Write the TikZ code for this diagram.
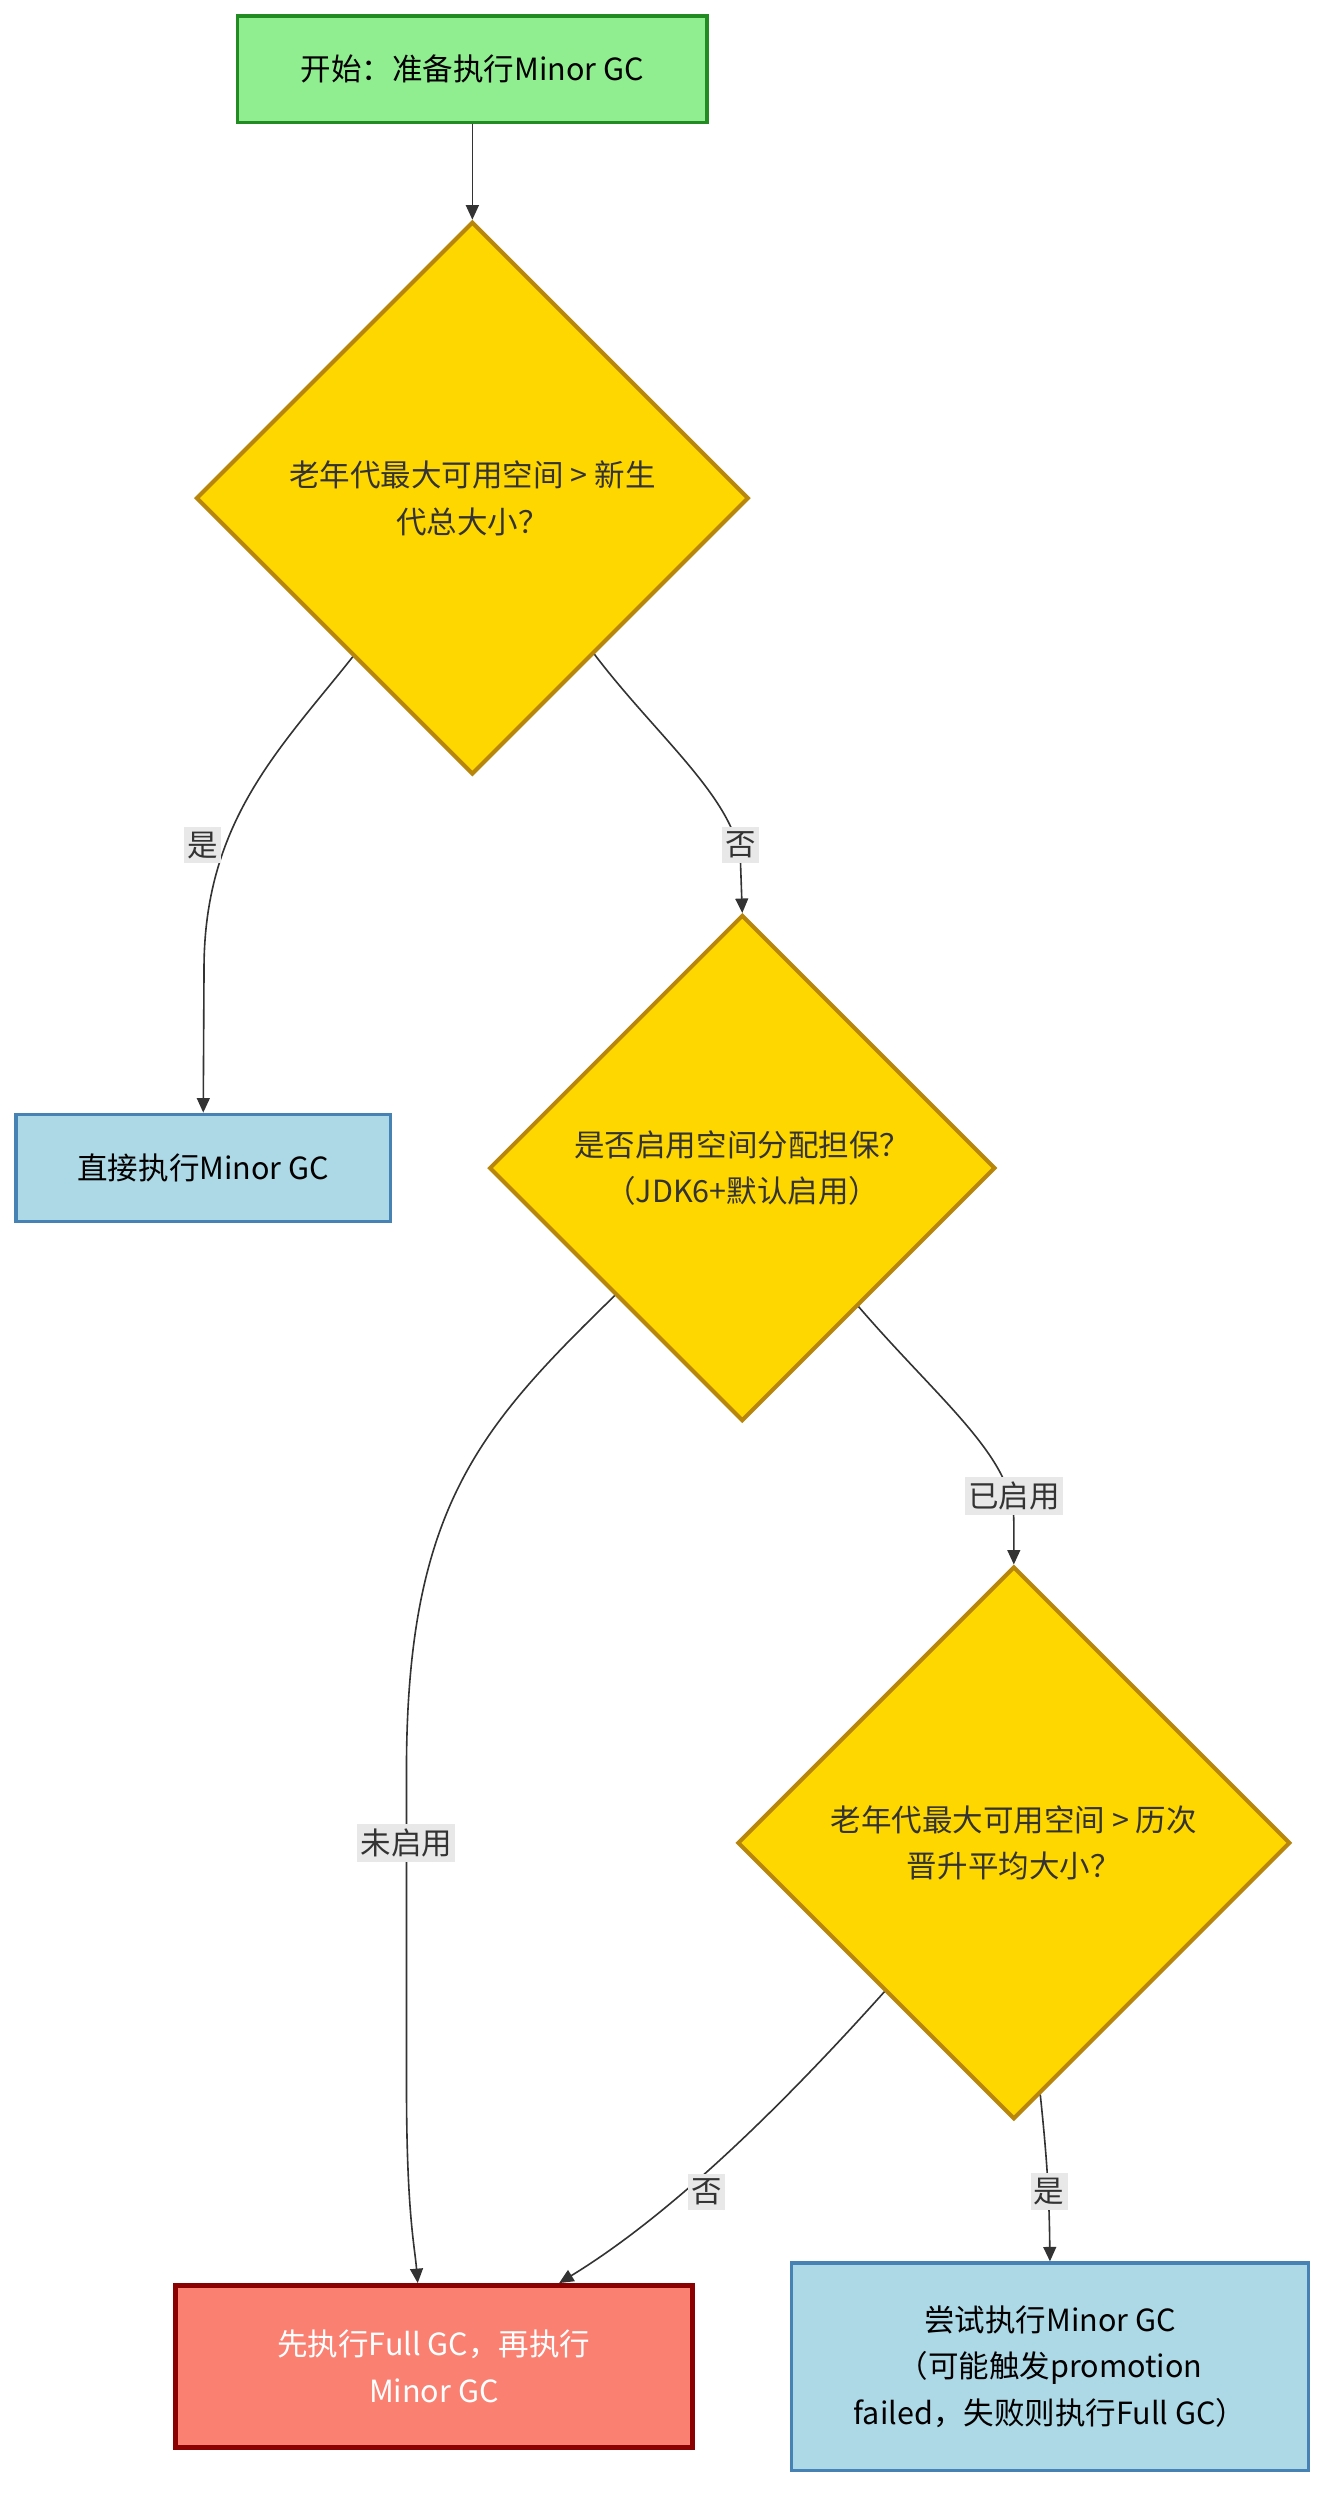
\documentclass[tikz,border=0pt]{standalone}
\usepackage{fontspec}
\setmainfont{Noto Sans CJK SC}
\usetikzlibrary{shapes.geometric,arrows.meta}
\definecolor{startfill}{HTML}{90EE90}
\definecolor{startline}{HTML}{228B22}
\definecolor{askfill}{HTML}{FFD700}
\definecolor{askline}{HTML}{B8860B}
\definecolor{gcfill}{HTML}{ADD8E6}
\definecolor{gcline}{HTML}{4682B4}
\definecolor{fullfill}{HTML}{FA8072}
\definecolor{fullline}{HTML}{8B0000}
\definecolor{ink}{HTML}{333333}
\definecolor{tagfill}{HTML}{E8E8E8}
\tikzset{
  txt/.style={font=\fontsize{19}{29}\selectfont, align=center, inner sep=0pt},
  startbox/.style={txt, draw=startline, fill=startfill, line width=2pt, minimum width=292pt, minimum height=66pt},
  ask/.style={txt, diamond, aspect=1, draw=askline, fill=askfill, line width=2.5pt, text=ink},
  gcbox/.style={txt, draw=gcline, fill=gcfill, line width=2pt},
  fullbox/.style={txt, draw=fullline, fill=fullfill, line width=3pt, text=white},
  flow/.style={draw=ink, line width=1pt, -{Triangle[length=9pt,width=8pt]}},
  tag/.style={font=\fontsize{19}{22}\selectfont, fill=tagfill, text=ink, inner xsep=2pt, inner ysep=3pt},
}
\begin{document}
\begin{tikzpicture}[x=1pt,y=-1pt]
    \useasboundingbox (0,0) rectangle (830,1561);
    \node[startbox] (start) at (294,43) {开始：准备执行Minor GC};
    \node[ask, minimum width=344pt, minimum height=344pt] (d1) at (294,310) {老年代最大可用空间 > 新生\\代总大小？};
    \node[gcbox, minimum width=233pt, minimum height=67pt] (direct) at (126.5,727) {直接执行Minor GC};
    \node[ask, minimum width=315pt, minimum height=315pt] (d2) at (462,727) {是否启用空间分配担保？\\（JDK6+默认启用）};
    \node[ask, minimum width=344pt, minimum height=344pt] (d3) at (631,1147) {老年代最大可用空间 > 历次\\晋升平均大小？};
    \node[fullbox, minimum width=322pt, minimum height=101pt] (full) at (270,1473) {先执行Full GC，再执行\\Minor GC};
    \node[gcbox, minimum width=322pt, minimum height=129pt] (try) at (653.5,1473) {尝试执行Minor GC\\（可能触发promotion\\failed，失败则执行Full GC）};
    \coordinate (yes1) at (126,526);
    \coordinate (no1) at (461,526);
    \coordinate (on) at (631,931);
    \coordinate (off) at (253,1147);
    \coordinate (no2) at (440,1364);
    \coordinate (yes2) at (653,1364);
    \draw[flow] (start) -- (d1);
    \draw[flow] (d1.233) .. controls (175,465) and (128,510) .. (127,600) -- (direct.north);
    \draw[flow] (d1.-52) .. controls (410,460) and (461,500) .. (461,540) -- (d2.north);
    \draw[flow] (d2.225) .. controls (300,887) and (254,937) .. (253,1097) -- (253,1297) .. controls (253,1377) and (258,1397) .. ([xshift=-10pt]full.north);
    \draw[flow] (d2.-50) .. controls (585,872) and (631,907) .. (631,947) -- (d3.north);
    \draw[flow] (d3.229) .. controls (490,1307) and (420,1377) .. ([xshift=78pt]full.north);
    \draw[flow] (d3.-84) .. controls (652,1347) and (653,1367) .. (try.north);
    \node[tag] at (yes1) {是};
    \node[tag] at (no1) {否};
    \node[tag] at (on) {已启用};
    \node[tag] at (off) {未启用};
    \node[tag] at (no2) {否};
    \node[tag] at (yes2) {是};
\end{tikzpicture}
\end{document}
